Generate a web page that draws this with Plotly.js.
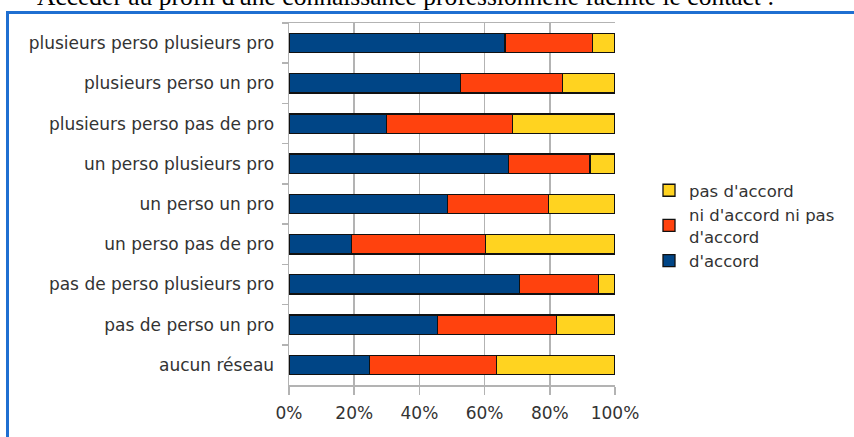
<!DOCTYPE html>
<html>
<head>
<meta charset="utf-8">
<script src="https://cdn.plot.ly/plotly-3.0.1.min.js"></script>
<style>html,body{margin:0;padding:0;background:#fff;}#chart{width:854px;height:437px;}</style>
</head>
<body>
<div id="chart"></div>
<script>
const categories = [
  "plusieurs perso plusieurs pro",
  "plusieurs perso un pro",
  "plusieurs perso pas de pro",
  "un perso plusieurs pro",
  "un perso un pro",
  "un perso pas de pro",
  "pas de perso plusieurs pro",
  "pas de perso un pro",
  "aucun réseau"
];
const seriesNames = ["d'accord", "ni d'accord ni pas<br>d'accord", "pas d'accord"];
const dAccord = [66.3, 52.5, 29.8, 67.4, 48.7, 19.2, 70.6, 45.5, 24.6];
const niNi = [26.7, 31.3, 38.7, 24.9, 30.8, 41.1, 24.3, 36.6, 39.1];
const pasDAccord = [7.0, 16.2, 31.5, 7.7, 20.5, 39.7, 5.1, 17.9, 36.3];
const xTicks = [0, 20, 40, 60, 80, 100];
const xTickLabels = ["0%", "20%", "40%", "60%", "80%", "100%"];
const titleText = "Accéder au profil d'une connaissance professionnelle facilite le contact :";

const colors = ["#004586", "#ff420e", "#ffd320"];
const seriesValues = [dAccord, niNi, pasDAccord];

const W = 854, H = 437, L = 289, R = 615, T = 23, B = 385;
const px = x => (x - L) / (R - L);
const py = y => (B - y) / (B - T);
const FONT = 'DejaVu Sans, Verdana, sans-serif';

const traces = seriesValues.map((vals, i) => ({
  type: 'bar',
  orientation: 'h',
  name: seriesNames[i],
  y: categories,
  x: vals,
  width: 0.48,
  marker: {color: colors[i], line: {color: '#111', width: 1.3}},
  hoverinfo: 'x+y'
}));

const layout = {
  width: W, height: H,
  margin: {l: L, r: W - R, t: T, b: H - B, pad: 0},
  paper_bgcolor: '#ffffff',
  plot_bgcolor: '#ffffff',
  barmode: 'stack',
  font: {family: FONT, size: 17, color: '#333333'},
  showlegend: true,
  legend: {
    x: px(649), xanchor: 'left', y: py(173), yanchor: 'top',
    traceorder: 'reversed',
    font: {family: FONT, size: 16.5, color: '#333333'},
    bgcolor: 'rgba(0,0,0,0)', borderwidth: 0
  },
  xaxis: {
    range: [0, 100],
    tickvals: xTicks, ticktext: xTickLabels,
    showgrid: true, gridcolor: '#b3b3b3', gridwidth: 1.5,
    showline: true, linecolor: '#b3b3b3', linewidth: 1.5, mirror: true,
    ticks: 'outside', ticklen: 8, tickcolor: '#b3b3b3', tickwidth: 1.5,
    ticklabelstandoff: 4,
    zeroline: false, fixedrange: true
  },
  yaxis: {
    type: 'category',
    autorange: 'reversed',
    showgrid: false,
    showline: true, linecolor: '#b3b3b3', linewidth: 1.5,
    ticks: 'outside', ticklen: 6, tickcolor: '#b3b3b3', tickwidth: 1.5,
    tickson: 'boundaries',
    ticklabelstandoff: 10,
    zeroline: false, fixedrange: true
  },
  shapes: [{
    type: 'rect', xref: 'paper', yref: 'paper', layer: 'below',
    x0: px(7.5), x1: px(1000), y0: py(12.5), y1: py(600),
    line: {color: '#1f6fd1', width: 3}, fillcolor: 'rgba(0,0,0,0)'
  }],
  annotations: [{
    text: titleText, xref: 'paper', yref: 'paper',
    x: px(35), xanchor: 'left', y: py(13), yanchor: 'bottom',
    showarrow: false,
    font: {family: 'Liberation Serif, Times New Roman, serif', size: 25.5, color: '#000000'}
  }]
};

Plotly.newPlot('chart', traces, layout, {displayModeBar: false, staticPlot: true});
</script>
</body>
</html>
